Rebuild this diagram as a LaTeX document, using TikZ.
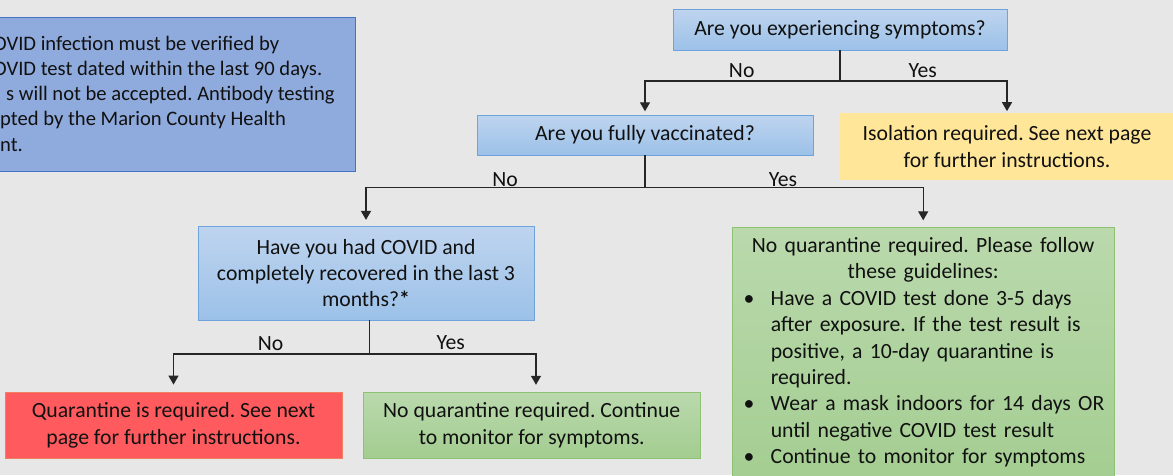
\documentclass[tikz,border=0pt]{standalone}
\usepackage{fontspec}
\setmainfont{Carlito}
\usetikzlibrary{arrows.meta}
\definecolor{bgc}{HTML}{E7E7E7}
\definecolor{notefill}{HTML}{8FAADC}
\definecolor{noteborder}{HTML}{4472C4}
\definecolor{qtop}{HTML}{BED4EF}
\definecolor{qbot}{HTML}{9CC1E8}
\definecolor{qborder}{HTML}{6FA3DC}
\definecolor{yfill}{HTML}{FFE699}
\definecolor{rfill}{HTML}{FF5A5E}
\definecolor{rborder}{HTML}{F08060}
\definecolor{gtop}{HTML}{BAD9AD}
\definecolor{gbot}{HTML}{A3CD90}
\definecolor{gborder}{HTML}{8DC273}
\definecolor{linec}{HTML}{262626}
\definecolor{txt}{HTML}{111111}
\newcommand\mainfs{\fontsize{21.7}{26.4}\selectfont\frenchspacing}
\newcommand\notefs{\fontsize{20.6}{25.25}\selectfont\frenchspacing}
\newcommand\gbul{\makebox[30.7pt][l]{\hspace{3.6pt}\textbullet}}
\newcommand\gcont{\hspace*{30.7pt}}
\newcommand\gctr[1]{\makebox[366.3pt][c]{#1}}
\begin{document}
\begin{tikzpicture}[x=1pt,y=-1pt,
  every node/.style={text=txt},
  box/.style={inner sep=0pt, align=center, font=\mainfs, line width=0.8pt},
  qbox/.style={box, draw=qborder, top color=qtop, bottom color=qbot},
  gbox/.style={box, draw=gborder, top color=gtop, bottom color=gbot},
  lbl/.style={font=\mainfs, inner sep=0pt, anchor=base},
  conn/.style={draw=linec, line width=1.3pt},
  arr/.style={conn, -{Triangle[width=10pt,length=9pt]}}]
\useasboundingbox (0,0) rectangle (1173,475);
\fill[bgc] (0,0) rectangle (1173,475);

% note box (partly off the left edge)
\node[draw=noteborder, fill=notefill, line width=1pt, inner sep=0pt,
      minimum width=395.3pt, minimum height=154.4pt] (note) at (157.65,94.5) {};
\node[anchor=west, align=left, font=\notefs, inner sep=0pt] (notetext) at (-7,93.5)
  {OVID infection must be verified by\\
   OVID test dated within the last 90 days.\\
   \hspace*{13pt}s will not be accepted. Antibody testing\\
   \hspace*{7pt}pted by the Marion County Health\\
   \hspace*{7pt}nt.};

% question boxes
\node[qbox, minimum width=334pt, minimum height=40.5pt] (q1) at (840,29.75) {Are you experiencing symptoms?};
\node[qbox, minimum width=336pt, minimum height=40pt] (q2) at (645,135) {Are you fully vaccinated?};
\node[qbox, minimum width=336pt, minimum height=94pt] (q3) at (366,273)
  {Have you had COVID and\\completely recovered in the last 3\\months?{\bfseries *}};

% outcome boxes
\node[box, fill=yfill, minimum width=334pt, minimum height=66.5pt] (iso) at (1007,146.4)
  {Isolation required. See next page\\for further instructions.};
\node[box, fill=rfill, draw=rborder, minimum width=337pt, minimum height=66pt] (red) at (173.5,425.3)
  {Quarantine is required. See next\\page for further instructions.};
\node[gbox, minimum width=336.5pt, minimum height=66pt] (gsmall) at (531.75,425.2)
  {No quarantine required. Continue\\to monitor for symptoms.};
\node[gbox, anchor=north, inner xsep=8pt, inner ysep=10pt, text width=366.3pt, align=left] (gbig) at (923.2,227)
  {\gctr{No quarantine required. Please follow}\\
   \gctr{these guidelines:}\\
   \gbul Have a COVID test done 3-5 days\\
   \gcont after exposure. If the test result is\\
   \gcont positive, a 10-day quarantine is\\
   \gcont required.\\
   \gbul Wear a mask indoors for 14 days OR\\
   \gcont until negative COVID test result\\
   \gbul Continue to monitor for symptoms\rule[-20pt]{0pt}{20pt}};

% junctions
\coordinate (j1) at (840,81);
\coordinate (j2) at (645,187.5);
\coordinate (j3) at (369.3,354);

% connectors
\draw[conn] (q1.south) -- (j1);
\draw[arr, shorten >=3.3pt] (j1) -| (q2.north);
\draw[arr, shorten >=1.6pt] (j1) -| (iso.north);
\draw[conn] (q2.south) -- (j2);
\draw[arr, shorten >=5.7pt] (j2) -| (q3.north);
\draw[arr, shorten >=6.7pt] (j2) -| (gbig.north);
\draw[conn] (j3 |- q3.south) -- (j3);
\draw[arr, shorten >=7.3pt] (j3) -| (red.north);
\draw[arr, shorten >=7pt] (j3) -| ([xshift=4.25pt]gsmall.north);

% labels
\node[lbl] (l1no) at (741.7,77) {No};
\node[lbl] (l1yes) at (922.7,77) {Yes};
\node[lbl] (l2no) at (505,186.3) {No};
\node[lbl] (l2yes) at (783,186) {Yes};
\node[lbl] (l3no) at (270.7,350.3) {No};
\node[lbl] (l3yes) at (450.7,349.3) {Yes};
\end{tikzpicture}
\end{document}
